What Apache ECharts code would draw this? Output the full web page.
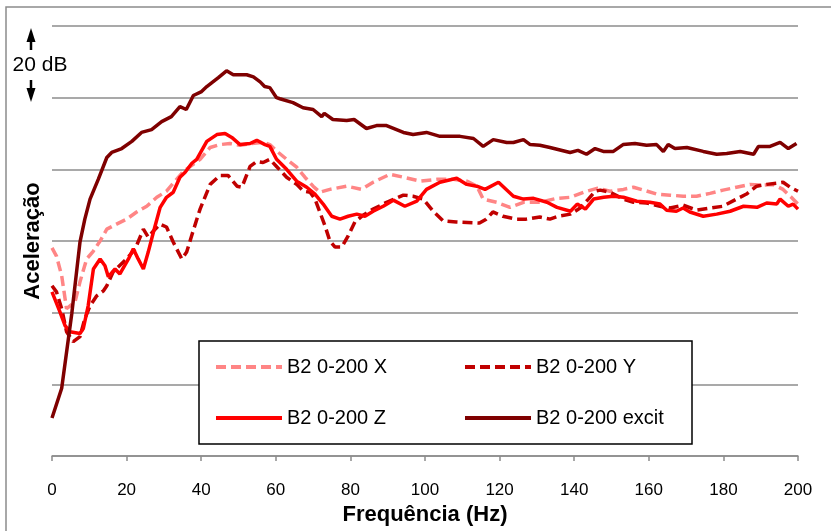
<!DOCTYPE html>
<html><head><meta charset="utf-8">
<script src="https://cdn.jsdelivr.net/npm/echarts@6/dist/echarts.min.js"></script>
<style>html,body{margin:0;padding:0;background:#fff}#c{width:831px;height:531px}</style>
</head><body><div id="c"></div>
<script>
// Frequencies (Hz) and levels (dB, arbitrary reference; grid step = 20 dB)
const freqX = [0,1.2,2.6,3.9,4.4,6.2,7.5,9.3,11.1,12.9,14.7,17.3,20,22.7,25.4,28.1,30.7,33.4,35.2,39.7,42.4,45,47.7,50.4,53.5,56.6,58.4,60.7,62.9,65.6,67.8,70,71.8,74.5,79,83,86.1,90.6,94.2,98.7,103.1,107.6,111.2,113.9,115.6,119.2,122.8,126.4,130.8,135.3,139,142.5,146.1,149.6,153.2,155.9,158.6,162.1,165.7,169.2,172.8,176.4,179.9,183.5,187.1,190.7,193.3,196,198.2,200];
const valX  = [58.1,55.8,50.3,41.1,40.6,43.1,48.6,55,57.2,60,63.3,64.7,66.1,68.1,69.7,72.2,73.9,77.2,79.4,82.8,86.1,86.9,87.2,86.7,87.2,87.5,86.9,84.7,82.8,80.6,77.8,75.3,73.6,74.4,75.3,74.4,76.4,78.6,77.8,76.7,77.2,77.2,76.7,75.3,71.7,70.8,69.4,70.8,70.8,71.9,72.2,73.6,74.7,73.9,74.4,75,74.2,73.1,72.8,72.5,72.5,73.3,74.2,75,75.8,75.6,75.8,74.4,72.2,70.3];

const freqY = [0,1.2,2.6,3.9,5.7,7.5,8.8,10.2,12,13.8,14.7,16.4,20,22.3,24.5,25.8,27.2,29,30.7,32.5,34.8,36.1,37.5,39.7,42.4,45,47.2,49.6,50.9,53.1,54.9,56.6,58.4,60.2,62.9,65.6,67.4,69.2,70.5,71.8,73.2,74.5,75.9,77.7,79.4,81.2,83.4,86.1,89.7,94.2,96.8,99.5,102.2,104.9,108.4,114.6,116.4,118.2,120.9,124.4,127.1,130.8,133.5,135.7,139,141.6,143.8,145.6,147,149.6,153.2,155.9,159.4,163,165.7,169.2,172.8,176.4,179.9,183.5,186.2,188.9,191.6,194.3,196,197.9,200];
const valY  = [47.5,45.8,41.1,34.7,31.9,33.3,38.3,41.9,44.7,46.1,47.5,51.4,55,57.8,63.3,61.1,62.8,64.7,63.9,59.7,55,56.9,61.7,68.9,75.8,78.3,78.3,75.3,75,80.8,82.2,81.9,82.8,80.8,77.8,75.8,73.9,73.6,71.7,68.1,64.2,60,58.3,58.3,61.4,65.3,67.2,68.9,70.8,72.8,72.5,71.7,68.3,65.6,65.3,65,66.1,68.1,66.9,66.1,66.1,66.7,66.1,66.9,67.5,69.2,71.7,73.9,74.2,73.6,71.7,70.8,70.6,69.7,69.2,70,68.6,69.2,69.7,71.7,73.1,75.3,75.8,76.1,76.4,75,73.9];

const freqZ = [0,2.1,3.5,4.8,7.5,8.4,9.7,11.1,12.9,14.2,15.1,16.9,18.2,20.5,21.8,23.1,24.5,25.8,27.2,29,30.7,32.5,34.3,35.7,37.5,38.8,41.5,44.2,46.4,48.2,50.4,53.1,54.9,57.1,58.4,60.2,62.9,65.6,68.3,70.5,72.7,75,77.2,79.4,81.7,83.9,86.1,88.8,91.5,94.6,97.8,100.4,104,108.5,111.2,113.9,116.1,119.7,123.7,126.4,129.1,132.7,135.4,139,140.8,143,145.2,147.9,150.5,153.2,156.8,160.3,163,164.8,167.4,169.2,171,174.6,178.2,181.8,185.4,189,191.6,194.3,195.2,197.4,198.7,200];
const valZ  = [45.8,40.3,36.4,34.7,34.2,35.6,41.9,52.2,55,53.1,50,52.2,50.8,55,57.8,55,52.2,56.9,62.5,69.4,72.2,73.6,77.8,79.2,81.7,82.8,87.8,89.7,90,88.9,86.9,87.2,88.1,86.9,86.4,82.8,80,76.7,75,73.1,70.3,66.9,66.1,66.9,67.5,66.9,68.3,69.7,71.4,69.7,71.1,74.4,76.4,77.5,75.8,75.3,74.4,76.4,72.5,71.7,71.9,70.8,69.4,68.3,70.3,68.9,71.7,72.2,72.5,72.2,71.1,70.8,70.3,68.6,68.3,69.2,68.1,66.9,67.5,68.3,69.7,69.4,70.6,70.3,71.7,69.7,70.3,68.9];

const freqE = [0,2.6,5.3,7.5,8.8,10.2,12.4,14.7,16,18.7,21.4,24,26.7,29.4,32,34.3,36,37.9,40.1,41.5,44.6,46.8,48.6,52.2,54,55.8,57,58.4,60.2,61.1,64.6,67.3,70,72.3,73,75.3,79,81,84.3,87,89.7,94.2,96.8,100.4,104,109.4,113,115.6,118.3,121.9,123.7,126.4,128.2,130.8,133.5,138.9,141,143.3,145.6,147.8,150.5,153.1,156.3,159.4,162.1,163.9,165.2,167,170.2,174.6,178.2,180.9,184.5,188.1,189.4,192.5,195.2,197.4,199.6];
const valE  = [10.6,18.9,39.7,59.7,66.1,71.7,77.2,83.3,84.7,85.8,87.8,90.3,91.1,93.3,94.7,97.5,96.7,100.6,101.7,103.1,105.6,107.5,106.4,106.4,105.8,104.4,103.1,102.8,100,99.7,98.6,97.2,96.7,94.7,95.6,93.9,93.6,93.9,91.4,92.2,92.2,90.3,89.7,90.3,89.2,89.2,88.6,86.4,88.3,87.5,87.5,88.3,86.9,86.7,86.1,84.7,85.3,84.2,85.8,85,85,86.9,87.2,86.7,86.9,85,86.9,85.8,86.1,85,84.2,84.4,85,84.2,86.4,86.4,87.5,85.8,87.2];

const xTicks = [0,20,40,60,80,100,120,140,160,180,200];
const seriesNames = ['B2 0-200 X','B2 0-200 Y','B2 0-200 Z','B2 0-200 excit'];

const pair = (f, v) => f.map((x, i) => [x, v[i]]);
const FONT = '"Liberation Sans", Arial, sans-serif';

const chart = echarts.init(document.getElementById('c'), null, {renderer: 'canvas'});
chart.setOption({
  animation: false,
  backgroundColor: '#fff',
  grid: {left: 52, right: 33, top: 26, bottom: 73},
  xAxis: {
    type: 'value', min: 0, max: 200, interval: 20,
    axisLine: {show: true, lineStyle: {color: '#8c8c8c', width: 1.5}},
    axisTick: {show: true, inside: false, length: 5, lineStyle: {color: '#8c8c8c', width: 1.5}},
    axisLabel: {color: '#000', fontSize: 17, fontFamily: FONT, margin: 26,
      formatter: v => xTicks.includes(v) ? String(v) : ''},
    splitLine: {show: false},
    name: 'Frequência (Hz)', nameLocation: 'middle', nameGap: 48,
    nameTextStyle: {color: '#000', fontSize: 22, fontWeight: 'bold', fontFamily: FONT}
  },
  yAxis: {
    type: 'value', min: 0, max: 120, interval: 20,
    axisLine: {show: false}, axisTick: {show: false}, axisLabel: {show: false},
    splitLine: {show: true, lineStyle: {color: '#8c8c8c', width: 1.5}},
    name: 'Aceleração', nameLocation: 'middle', nameGap: 8, nameRotate: 90,
    nameTextStyle: {color: '#000', fontSize: 22, fontWeight: 'bold', fontFamily: FONT}
  },
  legend: {
    left: 199, top: 341, width: 470,
    orient: 'horizontal',
    padding: [16, 11, 16, 15],
    itemGap: 31, itemWidth: 66, itemHeight: 14,
    borderColor: '#000', borderWidth: 1.5, backgroundColor: '#fff',
    itemStyle: {opacity: 0, borderWidth: 0},
    lineStyle: {width: 4},
    textStyle: {color: '#000', fontSize: 20, fontFamily: FONT, width: 145, lineHeight: 20},
    data: seriesNames
  },
  series: [
    {name: seriesNames[0], type: 'line', data: pair(freqX, valX), showSymbol: false, symbol: 'none',
      lineStyle: {color: '#FF8585', width: 3.5, type: [10, 5]}, itemStyle: {color: '#FF8585'}},
    {name: seriesNames[1], type: 'line', data: pair(freqY, valY), showSymbol: false, symbol: 'none',
      lineStyle: {color: '#C00000', width: 3.5, type: [10, 5]}, itemStyle: {color: '#C00000'}},
    {name: seriesNames[2], type: 'line', data: pair(freqZ, valZ), showSymbol: false, symbol: 'none',
      lineStyle: {color: '#FF0000', width: 3.5}, itemStyle: {color: '#FF0000'}},
    {name: seriesNames[3], type: 'line', data: pair(freqE, valE), showSymbol: false, symbol: 'none',
      lineStyle: {color: '#7F0000', width: 3.5}, itemStyle: {color: '#7F0000'}}
  ],
  graphic: [
    {type: 'rect', shape: {x: 6, y: 7, width: 900, height: 600}, style: {fill: 'none', stroke: '#8c8c8c', lineWidth: 1.5}, silent: true},
    {type: 'text', x: 40, y: 65, style: {text: '20 dB', fill: '#000', font: '21px "Liberation Sans", Arial, sans-serif', textAlign: 'center', textVerticalAlign: 'middle'}},
    {type: 'line', shape: {x1: 31, y1: 50, x2: 31, y2: 40}, style: {stroke: '#000', lineWidth: 2.5}},
    {type: 'polygon', shape: {points: [[26.5, 42], [35.5, 42], [31, 28]]}, style: {fill: '#000'}},
    {type: 'line', shape: {x1: 31, y1: 80, x2: 31, y2: 90}, style: {stroke: '#000', lineWidth: 2.5}},
    {type: 'polygon', shape: {points: [[26.5, 88], [35.5, 88], [31, 102]]}, style: {fill: '#000'}}
  ]
});
</script></body></html>
